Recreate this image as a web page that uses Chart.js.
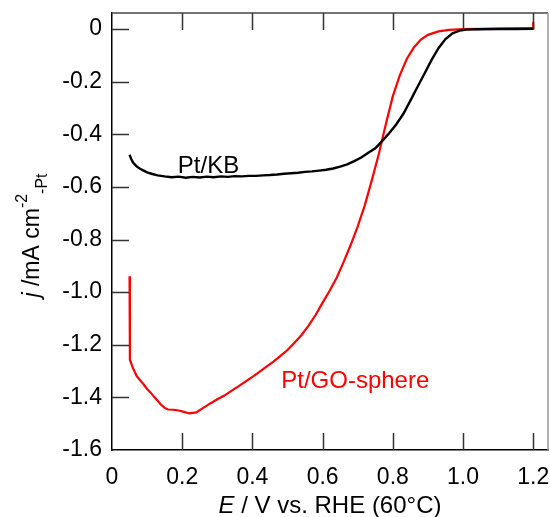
<!DOCTYPE html>
<html>
<head>
<meta charset="utf-8">
<script src="https://cdn.jsdelivr.net/npm/chart.js@4"></script>
<style>
  body { margin: 0; background: #fff; }
  canvas { display: block; }
</style>
</head>
<body>
<canvas id="lsvChart" width="550" height="517"></canvas>
<script>
// Pt/KB (black)
const kbPotential = [0.050, 0.055, 0.060, 0.070, 0.080, 0.090, 0.100, 0.115, 0.130, 0.150,
  0.170, 0.190, 0.210, 0.230, 0.250, 0.270, 0.290, 0.310, 0.330, 0.350,
  0.370, 0.390, 0.410, 0.430, 0.450, 0.470, 0.490, 0.510, 0.530, 0.550,
  0.570, 0.590, 0.610, 0.630, 0.650, 0.670, 0.690, 0.710, 0.730, 0.750,
  0.770, 0.790, 0.810, 0.830, 0.850, 0.870, 0.890, 0.910, 0.930, 0.950,
  0.970, 0.990, 1.010, 1.050, 1.100, 1.150, 1.200];
const kbCurrent = [-0.478, -0.495, -0.507, -0.522, -0.531, -0.538, -0.545, -0.551, -0.556, -0.560,
  -0.563, -0.561, -0.565, -0.562, -0.564, -0.561, -0.563, -0.560, -0.562, -0.559,
  -0.560, -0.558, -0.558, -0.556, -0.555, -0.553, -0.550, -0.548, -0.546, -0.543,
  -0.541, -0.538, -0.535, -0.530, -0.523, -0.514, -0.502, -0.488, -0.470, -0.453,
  -0.425, -0.395, -0.362, -0.322, -0.272, -0.220, -0.170, -0.118, -0.073, -0.038,
  -0.016, -0.006, -0.002, -0.001, 0.000, 0.000, 0.001];

// Pt/GO-sphere (red)
const goPotential = [0.050, 0.051, 0.060, 0.070, 0.080, 0.090, 0.100, 0.110, 0.120, 0.130,
  0.140, 0.150, 0.160, 0.175, 0.190, 0.205, 0.220, 0.240, 0.260, 0.280,
  0.300, 0.320, 0.340, 0.360, 0.380, 0.400, 0.420, 0.440, 0.460, 0.480,
  0.500, 0.520, 0.540, 0.560, 0.580, 0.600, 0.620, 0.640, 0.660, 0.680,
  0.700, 0.720, 0.740, 0.760, 0.780, 0.800, 0.820, 0.840, 0.860, 0.880,
  0.900, 0.930, 0.960, 1.000, 1.100, 1.200, 1.200];
const goCurrent = [-0.940, -1.257, -1.290, -1.318, -1.335, -1.350, -1.368, -1.382, -1.398, -1.413,
  -1.428, -1.440, -1.446, -1.447, -1.450, -1.455, -1.461, -1.457, -1.440, -1.423,
  -1.407, -1.393, -1.375, -1.358, -1.340, -1.322, -1.303, -1.283, -1.264, -1.242,
  -1.220, -1.192, -1.163, -1.127, -1.087, -1.040, -0.995, -0.945, -0.885, -0.820,
  -0.750, -0.670, -0.575, -0.475, -0.362, -0.255, -0.175, -0.113, -0.070, -0.040,
  -0.022, -0.009, -0.003, 0.000, 0.002, 0.004, 0.028];

// axis ranges and ticks
const xRange = [0, 1.242];
const yRange = [-1.6, 0.061];
const tickStep = 0.2;

// curve labels: [text, E, j, colour]
const curveLabels = [
  ["Pt/KB", 0.275, -0.547, "#000"],
  ["Pt/GO-sphere", 0.693, -1.363, "#ff0000"],
];

const FONT = "'Liberation Sans', Arial, sans-serif";

function toPoints(xs, ys) {
  return xs.map((x, i) => ({ x: x, y: ys[i] }));
}

function fmtTick(v) {
  if (Math.abs(v) < 1e-9) return "0";
  return v.toFixed(1);
}

// draws rich text pieces one after another; y offsets shift super/subscripts
function drawPieces(ctx, pieces, x, y) {
  let total = 0;
  pieces.forEach((p) => {
    ctx.font = p.font;
    p.w = ctx.measureText(p.text).width;
    total += p.w;
  });
  let cx = x - total / 2;
  pieces.forEach((p) => {
    ctx.font = p.font;
    ctx.fillText(p.text, cx, y + (p.dy || 0));
    cx += p.w;
  });
}

const framePlugin = {
  id: "frame",
  afterDraw(chart) {
    const ctx = chart.ctx;
    const a = chart.chartArea;
    const xs = chart.scales.x;
    const ys = chart.scales.y;
    const tickLen = 17;

    ctx.save();
    // top and right border
    ctx.lineWidth = 1.5;
    ctx.strokeStyle = "#444";
    ctx.beginPath();
    ctx.moveTo(a.left, a.top);
    ctx.lineTo(a.right, a.top);
    ctx.stroke();
    ctx.strokeStyle = "#999";
    ctx.beginPath();
    ctx.moveTo(a.right, a.top);
    ctx.lineTo(a.right, a.bottom);
    ctx.stroke();

    // inward ticks
    ctx.strokeStyle = "#333";
    ctx.lineWidth = 1.5;
    ctx.beginPath();
    xs.ticks.forEach((t) => {
      const px = Math.round(xs.getPixelForValue(t.value)) + 0.5;
      if (t.value > 0) {
        ctx.moveTo(px, a.bottom);
        ctx.lineTo(px, a.bottom - tickLen);
        ctx.moveTo(px, a.top);
        ctx.lineTo(px, a.top + tickLen);
      }
    });
    ys.ticks.forEach((t) => {
      const py = Math.round(ys.getPixelForValue(t.value)) + 0.5;
      if (t.value > yRange[0] + 1e-6) {
        ctx.moveTo(a.left, py);
        ctx.lineTo(a.left + tickLen, py);
      }
    });
    ctx.stroke();

    // curve labels
    ctx.textAlign = "left";
    ctx.textBaseline = "alphabetic";
    curveLabels.forEach(([text, ex, jy, color]) => {
      ctx.fillStyle = color;
      drawPieces(ctx, [{ text: text, font: "24px " + FONT }],
        xs.getPixelForValue(ex), ys.getPixelForValue(jy));
    });

    // x title
    ctx.fillStyle = "#000";
    drawPieces(ctx, [
      { text: "E", font: "italic 24px " + FONT },
      { text: " / V vs. RHE (60°C)", font: "24px " + FONT },
    ], (a.left + a.right) / 2, 513);

    // y title, rotated
    ctx.translate(39, (a.top + a.bottom) / 2 + 4);
    ctx.rotate(-Math.PI / 2);
    drawPieces(ctx, [
      { text: "j", font: "italic 23px " + FONT },
      { text: " /mA cm", font: "23px " + FONT },
      { text: "-2", font: "16px " + FONT, dy: -12 },
      { text: "-Pt", font: "16px " + FONT, dy: 8 },
    ], 0, 0);
    ctx.restore();
  },
};

new Chart(document.getElementById("lsvChart"), {
  type: "scatter",
  data: {
    datasets: [
      {
        label: "Pt/KB",
        data: toPoints(kbPotential, kbCurrent),
        showLine: true,
        borderColor: "#000",
        borderWidth: 2.4,
        pointRadius: 0,
        tension: 0,
      },
      {
        label: "Pt/GO-sphere",
        data: toPoints(goPotential, goCurrent),
        showLine: true,
        borderColor: "#ff0000",
        borderWidth: 2.2,
        pointRadius: 0,
        tension: 0,
      },
    ],
  },
  options: {
    responsive: false,
    animation: false,
    layout: { padding: { top: 13, right: 2, left: 0, bottom: 0 } },
    plugins: {
      legend: { display: false },
      tooltip: { enabled: false },
    },
    scales: {
      x: {
        type: "linear",
        min: xRange[0],
        max: xRange[1],
        afterFit: (s) => {
          s.height = 67;
          s.paddingLeft = 0;
          s.paddingRight = 0;
        },
        grid: { display: false, drawTicks: false, tickLength: 0 },
        border: { display: true, color: "#000", width: 1.5 },
        ticks: {
          stepSize: tickStep,
          includeBounds: false,
          padding: 14,
          color: "#000",
          font: { family: FONT, size: 23 },
          maxRotation: 0,
          callback: fmtTick,
        },
      },
      y: {
        type: "linear",
        min: yRange[0],
        max: yRange[1],
        afterFit: (s) => {
          s.width = 112;
          s.paddingTop = 0;
          s.paddingBottom = 0;
        },
        grid: { display: false, drawTicks: false, tickLength: 0 },
        border: { display: true, color: "#000", width: 1.5 },
        ticks: {
          stepSize: tickStep,
          includeBounds: false,
          padding: 10,
          color: "#000",
          font: { family: FONT, size: 23 },
          callback: fmtTick,
        },
      },
    },
  },
  plugins: [framePlugin],
});
</script>
</body>
</html>
